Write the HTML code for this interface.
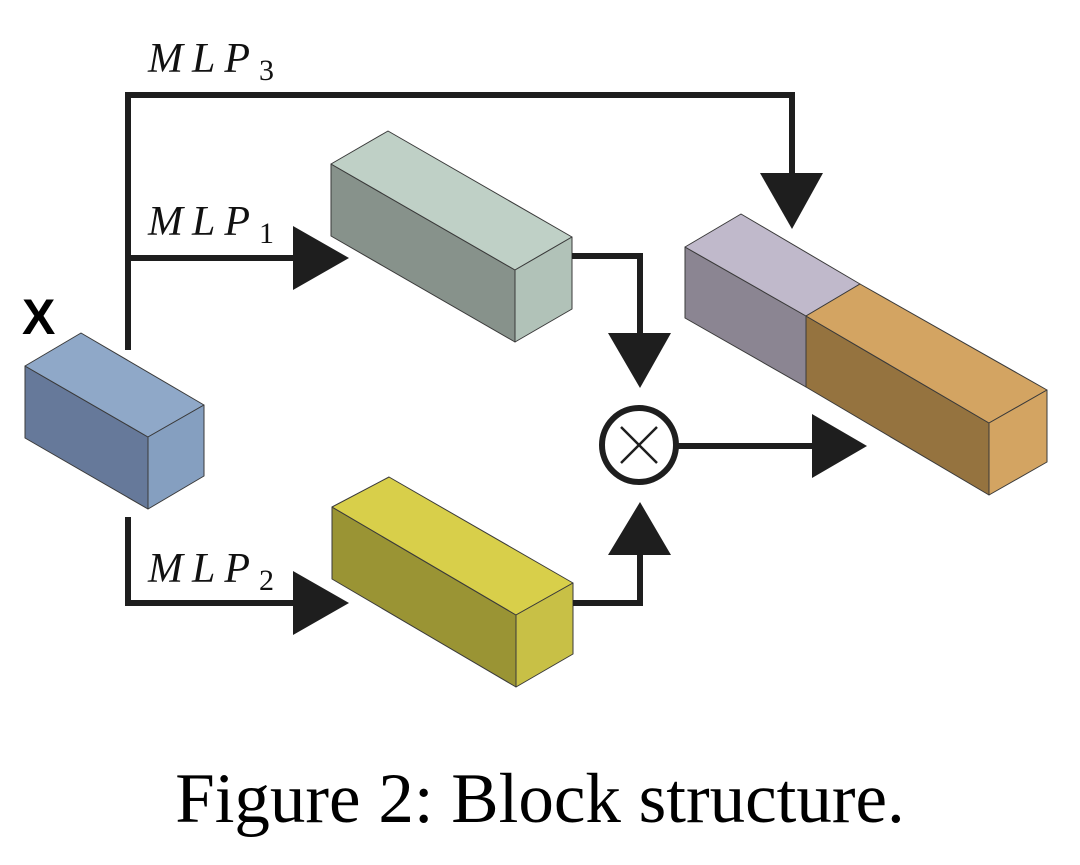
<!DOCTYPE html>
<html><head><meta charset="utf-8"><style>
html,body{margin:0;padding:0;background:#fff;width:1080px;height:865px;overflow:hidden}
</style></head><body>
<svg width="1080" height="865" viewBox="0 0 1080 865" xmlns="http://www.w3.org/2000/svg">
<g stroke="#3a3a3a" stroke-width="1" stroke-linejoin="round">
<polygon points="25,366 148,437 148,509 25,438" fill="#66799a"/>
<polygon points="25,366 81,333 204,405 148,437" fill="#8fa8c8"/>
<polygon points="148,437 204,405 204,476 148,509" fill="#859fc0"/>
<polygon points="331,164 515,270 515,342 331,236" fill="#87928b"/>
<polygon points="331,164 388,131 572,237 515,270" fill="#bfd0c6"/>
<polygon points="515,270 572,237 572,309 515,342" fill="#b1c2b8"/>
<polygon points="332,507 516,615 516,687 332,579" fill="#9a9434"/>
<polygon points="332,507 389,477 573,583 516,615" fill="#d8cf4a"/>
<polygon points="516,615 573,583 573,654 516,687" fill="#c8c046"/>
<polygon points="685,247 806,316 806,387 685,318" fill="#8b8592"/>
<polygon points="806,316 989,423 989,495 806,387" fill="#95733f"/>
<polygon points="685,247 741,214 860,284 806,316" fill="#c0b9cb"/>
<polygon points="806,316 860,284 1047,390 989,423" fill="#d3a462"/>
<polygon points="989,423 1047,390 1047,462 989,495" fill="#d3a462"/>
</g>
<g stroke="#1e1e1e" stroke-width="6" fill="none">
<polyline points="128,350 128,95 792,95 792,176"/>
<line x1="128" y1="258" x2="296" y2="258"/>
<polyline points="128,517 128,603 296,603"/>
<polyline points="572,256 640,256 640,336"/>
<polyline points="573,603 640,603 640,552"/>
<line x1="677" y1="446" x2="814" y2="446"/>
<circle cx="639" cy="445" r="37"/>
</g>
<g stroke="#1e1e1e" stroke-width="2.5">
<line x1="621" y1="427" x2="657" y2="463"/><line x1="657" y1="427" x2="621" y2="463"/>
</g>
<g fill="#1e1e1e">
<polygon points="760,173 823,173 792,229"/>
<polygon points="293,226 293,290 349,258"/>
<polygon points="293,571 293,635 349,603"/>
<polygon points="608,333 671,333 640,388"/>
<polygon points="608,555 671,555 640,502"/>
<polygon points="812,414 812,478 867,446"/>
</g>
<g font-family="Liberation Serif, serif" font-style="italic" font-size="42" fill="#111" letter-spacing="9">
<text x="148" y="72">MLP<tspan font-style="normal" font-size="30" dy="8" letter-spacing="0">3</tspan></text>
<text x="148" y="235">MLP<tspan font-style="normal" font-size="30" dy="8" letter-spacing="0">1</tspan></text>
<text x="148" y="582">MLP<tspan font-style="normal" font-size="30" dy="8" letter-spacing="0">2</tspan></text>
</g>
<text x="22" y="334" font-family="Liberation Sans, sans-serif" font-weight="bold" font-size="50" fill="#000">X</text>
<text x="540" y="822" text-anchor="middle" font-family="Liberation Serif, serif" font-size="71" fill="#000">Figure 2: Block structure.</text>
</svg>
</body></html>
